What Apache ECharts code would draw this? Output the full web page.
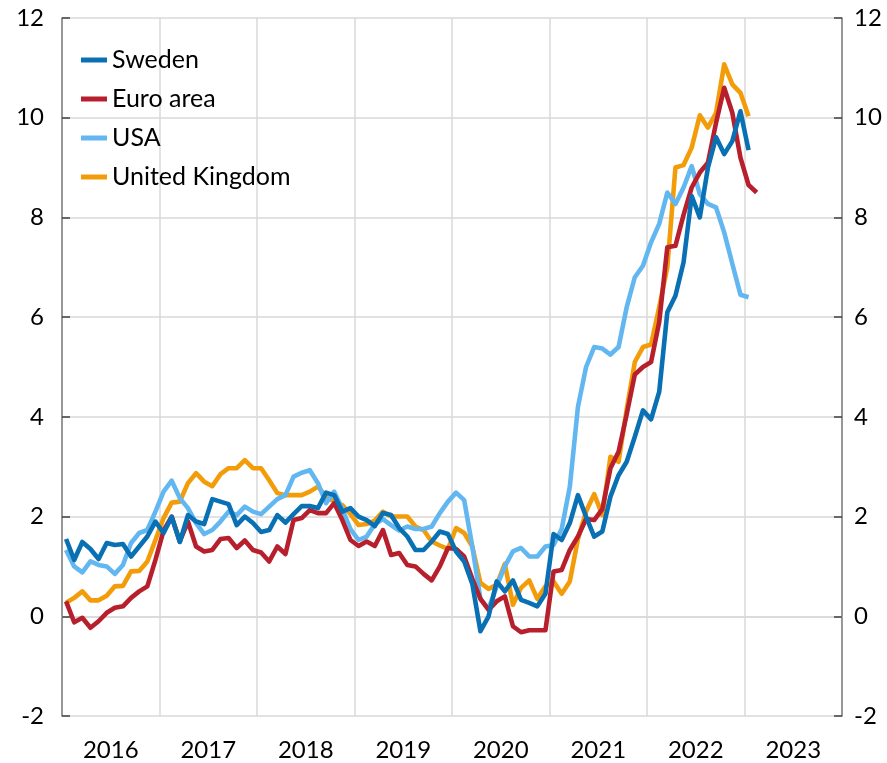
<!DOCTYPE html>
<html>
<head>
<meta charset="utf-8">
<script src="https://cdn.jsdelivr.net/npm/echarts@6/dist/echarts.min.js"></script>
<style>
  html, body { margin: 0; padding: 0; background: #fff; }
  #chart { width: 887px; height: 763px; }
</style>
</head>
<body>
<div id="chart"></div>
<script>
  // monthly values, Jan 2016 onwards
  const years = ['2016', '2017', '2018', '2019', '2020', '2021', '2022', '2023'];
  const sweden = [
    1.55, 1.13, 1.49, 1.35, 1.15, 1.47, 1.43, 1.45, 1.2, 1.4, 1.6, 1.9,
    1.67, 1.99, 1.49, 2.03, 1.9, 1.85, 2.35, 2.3, 2.25, 1.83, 2.0, 1.87,
    1.69, 1.73, 2.03, 1.88, 2.05, 2.21, 2.21, 2.17, 2.48, 2.43, 2.1, 2.17,
    2.0, 1.93, 1.81, 2.07, 2.03, 1.77, 1.6, 1.33, 1.33, 1.5, 1.7, 1.65,
    1.3, 1.1, 0.65, -0.3, 0.0, 0.7, 0.5, 0.72, 0.33, 0.27, 0.2, 0.45,
    1.65, 1.53, 1.87, 2.43, 2.0, 1.6, 1.7, 2.4, 2.83, 3.1, 3.6, 4.13,
    3.95, 4.5, 6.1, 6.43, 7.1, 8.43, 8.0, 9.0, 9.61, 9.27, 9.53, 10.13,
    9.35
  ];
  const euroArea = [
    0.3, -0.12, -0.03, -0.23, -0.1, 0.07, 0.17, 0.2, 0.37, 0.5, 0.6, 1.13,
    1.72, 2.0, 1.5, 1.9, 1.4, 1.3, 1.33, 1.55, 1.57, 1.37, 1.52, 1.33,
    1.28, 1.1, 1.4, 1.25, 1.93, 1.97, 2.13, 2.07, 2.07, 2.27, 1.93, 1.53,
    1.41, 1.5, 1.41, 1.73, 1.23, 1.27, 1.03, 1.0, 0.85, 0.72, 1.0, 1.37,
    1.35, 1.2, 0.75, 0.35, 0.13, 0.3, 0.4, -0.2, -0.32, -0.28, -0.28, -0.28,
    0.9, 0.93, 1.33, 1.6, 1.95, 1.93, 2.15, 2.97, 3.3, 4.05, 4.85, 5.0,
    5.1, 5.9, 7.4, 7.43, 8.05, 8.6, 8.9, 9.1, 9.9, 10.6, 10.1, 9.2,
    8.65, 8.5
  ];
  const usa = [
    1.33, 1.0, 0.88, 1.1, 1.03, 1.0, 0.85, 1.03, 1.47, 1.67, 1.73, 2.1,
    2.5, 2.72, 2.37, 2.17, 1.87, 1.65, 1.73, 1.9, 2.1, 2.03, 2.2, 2.1,
    2.05, 2.2, 2.35, 2.43, 2.8, 2.88, 2.93, 2.67, 2.27, 2.5, 2.15, 1.75,
    1.53, 1.6, 1.85, 1.95, 1.83, 1.72, 1.8, 1.75, 1.75, 1.8, 2.07, 2.3,
    2.48, 2.33, 1.4, 0.35, 0.15, 0.6, 1.0, 1.3, 1.37, 1.2, 1.2, 1.4,
    1.43, 1.75, 2.6, 4.2, 5.0, 5.4, 5.37, 5.25, 5.4, 6.2, 6.8, 7.03,
    7.5, 7.87, 8.5, 8.27, 8.6, 9.03, 8.47, 8.27, 8.2, 7.7, 7.07, 6.45,
    6.4
  ];
  const uk = [
    0.27, 0.37, 0.5, 0.32, 0.32, 0.41, 0.6, 0.61, 0.9, 0.91, 1.1, 1.53,
    1.97, 2.28, 2.3, 2.67, 2.87, 2.7, 2.61, 2.85, 2.97, 2.97, 3.13, 2.97,
    2.97, 2.73, 2.47, 2.43, 2.43, 2.43, 2.5, 2.6, 2.4, 2.3, 2.23, 2.05,
    1.83, 1.85, 1.92, 2.1, 2.0, 2.0, 2.0, 1.8, 1.73, 1.5, 1.42, 1.35,
    1.77, 1.67, 1.4, 0.67, 0.55, 0.63, 1.05, 0.23, 0.57, 0.72, 0.35, 0.6,
    0.7, 0.45, 0.7, 1.55, 2.1, 2.45, 2.03, 3.2, 3.1, 4.15, 5.1, 5.4,
    5.45, 6.2, 7.0, 9.0, 9.05, 9.4, 10.05, 9.8, 10.1, 11.07, 10.67, 10.5,
    10.03
  ];

  // month i -> middle of that month on a year scale
  function toPoints(arr) {
    return arr.map((v, i) => [2016 + (i + 0.5) / 12, v]);
  }

  const font = 'Lato, "Open Sans", sans-serif';
  const gridColor = '#d9d9d9';

  const chart = echarts.init(document.getElementById('chart'));

  function line(name, arr, color, z) {
    return {
      name: name,
      type: 'line',
      data: toPoints(arr),
      showSymbol: false,
      symbol: 'none',
      z: z,
      lineStyle: { color: color, width: 4.6, join: 'round' },
      itemStyle: { color: color }
    };
  }

  const yAxisBase = {
    type: 'value',
    min: -2,
    max: 12,
    interval: 2,
    axisLine: { show: true, lineStyle: { color: '#7f7f7f', width: 1.5 } },
    axisTick: { show: true, inside: true, length: 8, lineStyle: { color: '#404040', width: 1.5 } },
    axisLabel: { fontFamily: font, fontSize: 24, color: '#000' },
    splitLine: { show: true, lineStyle: { color: gridColor, width: 1.5 } }
  };

  chart.setOption({
    animation: false,
    backgroundColor: '#fff',
    grid: { left: 62, right: 45, top: 18, bottom: 47 },
    legend: {
      orient: 'vertical',
      left: 76,
      top: 41,
      icon: 'rect',
      itemWidth: 26,
      itemHeight: 5,
      itemGap: 11,
      textStyle: { fontFamily: font, fontSize: 25, color: '#000', lineHeight: 28 },
      data: ['Sweden', 'Euro area', 'USA', 'United Kingdom']
    },
    xAxis: [
      {
        type: 'value',
        min: 2016,
        max: 2024,
        interval: 1,
        axisLine: { show: true, lineStyle: { color: gridColor, width: 1.5 } },
        axisTick: { show: false },
        axisLabel: { show: false },
        splitLine: { show: true, lineStyle: { color: gridColor, width: 1.5 } }
      },
      {
        type: 'category',
        position: 'bottom',
        data: years,
        boundaryGap: true,
        axisLine: { show: false },
        axisTick: { show: false },
        axisLabel: { fontFamily: font, fontSize: 24, color: '#000', margin: 22 },
        splitLine: { show: false }
      }
    ],
    yAxis: [
      Object.assign({}, yAxisBase, { position: 'left', axisLabel: Object.assign({}, yAxisBase.axisLabel, { margin: 18 }) }),
      Object.assign({}, yAxisBase, { position: 'right', splitLine: { show: false }, axisLabel: Object.assign({}, yAxisBase.axisLabel, { margin: 12 }) })
    ],
    series: [
      line('Sweden', sweden, '#0a70b4', 6),
      line('Euro area', euroArea, '#b81f2d', 5),
      line('USA', usa, '#63b7f0', 4),
      line('United Kingdom', uk, '#f39c0a', 3)
    ]
  });
</script>
</body>
</html>
